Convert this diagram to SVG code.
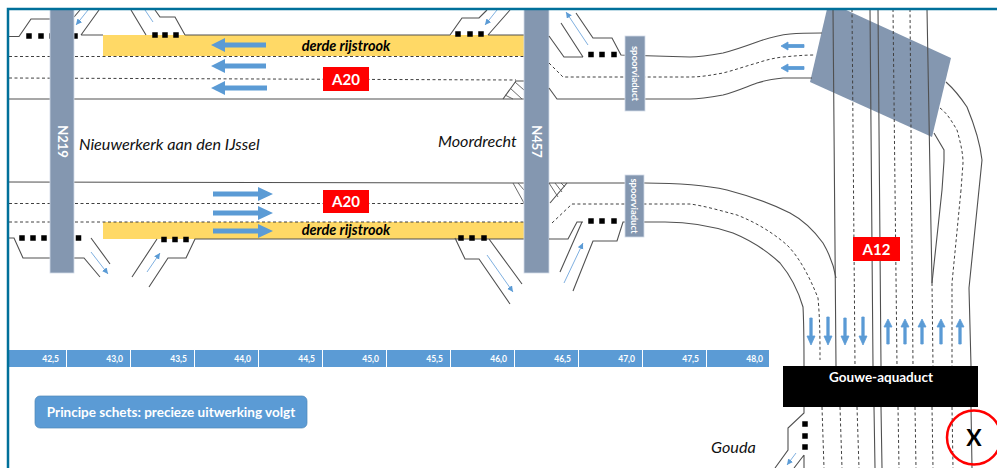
<svg xmlns="http://www.w3.org/2000/svg" width="997" height="468" viewBox="0 0 997 468">
<style>
.s{fill:none;stroke:#505050;stroke-width:1.1}
.d{fill:none;stroke:#404040;stroke-width:1;stroke-dasharray:3 2.5}
.t{fill:none;stroke:#595959;stroke-width:.9}
.la{fill:none;stroke:#7fb0e0;stroke-width:1}
.ah{fill:#5b9bd5}
.ah2{fill:#5b9bd5;stroke:#5b9bd5;stroke-width:.8}
.road{fill:#8497b0;stroke:#d3dbe8;stroke-width:.8}
.sq{fill:#000}
text{font-family:Lato,"Liberation Sans",sans-serif}
.lab{font-size:16.200px;font-style:italic;fill:#111}
.rt{font-weight:700;fill:#fff;text-anchor:middle}
.km{font-size:8.500px;font-weight:700;fill:#fff;text-anchor:end}
.cell{fill:#5b9bd5}
.red{fill:#f00}
.der{font-size:14.500px;font-weight:700;font-style:italic;fill:#000;text-anchor:middle}
</style>
<defs>
<g id="sqs"><rect class="sq" x="-2.750" y="-2.750" width="5.500" height="5.500"/></g>
<marker id="lh" markerWidth="7" markerHeight="7" refX="6" refY="3" orient="auto" markerUnits="userSpaceOnUse"><path d="M0 0L6 3L0 6Z" fill="#5b9bd5"/></marker>
</defs>
<rect width="997" height="468" fill="#fff"/>
<g id="yellow-lanes">
<rect x="103" y="35" width="421" height="21" fill="#ffd966"/>
<rect x="103" y="222" width="421" height="17" fill="#ffd966"/>
</g>
<g id="squares-behind">
<use href="#sqs" x="29" y="36"/><use href="#sqs" x="41" y="36"/><use href="#sqs" x="52" y="36"/><use href="#sqs" x="75" y="36"/>
<use href="#sqs" x="22" y="238"/><use href="#sqs" x="33" y="238"/><use href="#sqs" x="44" y="238"/><use href="#sqs" x="78.500" y="238"/>
</g>
<g id="connectors-a20-west">
<path class="s" d="M9 36.500H19L31 19H50M81 35L99 10M81 35H103M185 35H450M488 35H524M131 10L146 35M155 10L160 17H175L185 35M450 35L462 18H479L487 10M488 35L510 10M74 17L80 10"/>
<path class="d" d="M9 56.500H524M9 78L516 80"/>
<path class="s" d="M9 99H524"/>
<path class="s" d="M9 182L524 183"/>
<path class="d" d="M9 203.500H524M9 222H524"/>
<path class="s" d="M9 238H14L23 258H84L100 277M91 238L110 264M132 277L157 239M149 287L168 258H186L195 239H524M455 238L465 259H479L510 304M489 239L522 284"/>
<g id="hatch-west">
<path class="s" d="M503 99L516 81H524"/>
<path class="t" d="M505 95L513 99M510 88L522 99M515 82L524 90M513 183L524 203M518 183L524 190"/>
</g>
<path class="la" d="M88 10L76 25" marker-end="url(#lh)"/>
<path class="la" d="M145 10L153 22"/>
<path class="la" d="M497 10L485 25" marker-end="url(#lh)"/>
<path class="la" d="M91 252L108 274" marker-end="url(#lh)"/>
<path class="la" d="M147 272L160 253" marker-end="url(#lh)"/>
<path class="la" d="M487 255L513 292" marker-end="url(#lh)"/>
</g>
<g id="road-n219"><rect class="road" x="50" y="9" width="24" height="264"/><text class="rt" font-size="13" transform="translate(58 141.500) rotate(90)">N219</text></g>
<g id="road-n457"><rect class="road" x="524" y="9" width="25" height="264"/><text class="rt" font-size="13" transform="translate(532 141.500) rotate(90)">N457</text></g>
<g id="overpass-a12"><polygon points="827,9 844,9 951,58 932,137 810,82" fill="#8497b0"/></g>
<g id="connectors-east">
<path class="s" d="M549 36L564 57H583M561 23L583 57M576 13L593 38H612L621 55L690 57C701 57 712 55 723 53C735 50 746 46 757 42C768 38 779 35 790 34C801 33 811 33 822 33"/>
<path class="d" d="M549 63L563 77H690C701 77 712 75 723 73C735 70 746 66 757 63C766 60 774 58 783 57C794 56 804 55 815 55"/>
<path class="s" d="M549 88L557 99H690C701 99 712 97 723 95C735 92 746 87 757 83C766 80 774 79 783 78C793 78 802 78 812 78"/>
<g id="hatch-east">
<path class="s" d="M550 203L567 183"/>
<path class="t" d="M549 183L558 197M555 183L562 192M561 183L565 187"/>
</g>
<path class="s" d="M549 183H645C675 183 705 185 727 190C750 196 770 203 790 213C805 221 815 232 823 243C830 255 834 266 836 278"/>
<path class="d" d="M552 223L572 204H690C705 206 722 211 737 215C755 222 772 232 787 245C800 258 810 278 818 298C820 320 820 340 820 360"/>
<path class="s" d="M549 239H568L577 222H583M560 272L582 222M573 291L593 241H617L623 222H665C687 222 712 226 733 233C750 240 766 250 780 263C790 275 798 290 803 307C804 325 804 345 804 366"/>
<path class="la" d="M588 45L566 12" marker-end="url(#lh)"/>
<path class="la" d="M564 283L583 243" marker-end="url(#lh)"/>
<path class="s" d="M833 9L836 366M870 9L873 366M878 9L881 366M927 9L932 283"/>
<path class="d" d="M852 9L855 366M893 9L897 366M910 9L913 366M932 283L933 366M961 190L952 283V366M940 108C948 114 952 122 957 130C960 141 963 152 963 163L961 190"/>
<path class="s" d="M932 283L942 190L944 161V150L934 133M946 82C955 90 961 98 967 107C974 124 980 142 982 160L969 288L971 366"/>
<path class="d" d="M822 407L824 468M840 407L842 468M857 407L859 468M898 407L899 468M915 407L916 468M932 407L933 468M952 407L953 468"/>
<path class="s" d="M874 407L875 468M881 407L882 468M971 407L972 468"/>
<path class="s" d="M804 407V413L788 428V450L775 468M804 455V468M804 455L794 468"/>
<path class="la" d="M796 453L787 465" marker-end="url(#lh)"/>
</g>
<g id="squares">
<use href="#sqs" x="155" y="35"/><use href="#sqs" x="165" y="35"/><use href="#sqs" x="176" y="35"/>
<use href="#sqs" x="458" y="34"/><use href="#sqs" x="470" y="34"/><use href="#sqs" x="481" y="34"/>
<use href="#sqs" x="591" y="54.500"/><use href="#sqs" x="602" y="54.500"/><use href="#sqs" x="614" y="54.500"/>
<use href="#sqs" x="164" y="239.500"/><use href="#sqs" x="175" y="239.500"/><use href="#sqs" x="186" y="239.500"/>
<use href="#sqs" x="461" y="238"/><use href="#sqs" x="472" y="238"/><use href="#sqs" x="484" y="238"/>
<use href="#sqs" x="591" y="221"/><use href="#sqs" x="602" y="221"/><use href="#sqs" x="614" y="221"/>
<use href="#sqs" x="805" y="424"/><use href="#sqs" x="805" y="436"/><use href="#sqs" x="805" y="447"/>
</g>
<g id="spoorviaduct-north"><rect class="road" x="625" y="36" width="20" height="75"/><text class="rt" font-size="9.500" transform="translate(632 73.500) rotate(90)">spoorviaduct</text></g>
<g id="spoorviaduct-south"><rect class="road" x="625" y="175" width="19" height="62"/><text class="rt" font-size="9.500" transform="translate(631 206) rotate(90)">spoorviaduct</text></g>
<g id="flow-arrows">
<path class="ah" d="M211 45L225 38V42.500H266V47.500H225V52Z"/>
<path class="ah" d="M211 66L225 59V63.500H266V68.500H225V73Z"/>
<path class="ah" d="M211 88L225 81V85.500H267V90.500H225V95Z"/>
<path class="ah" d="M273 194L258 187V191.500H213V196.500H258V201Z"/>
<path class="ah" d="M273 213L258 206V210.500H213V215.500H258V220Z"/>
<path class="ah" d="M273 231L258 224V228.500H213V233.500H258V238Z"/>
<path class="ah2" d="M781 46L788 42V44.500H804V47.500H788V50Z"/>
<path class="ah2" d="M781 68L788 64V66.500H804V69.500H788V72Z"/>
<path class="ah2" d="M811 345L807 336H809.800V318H812.200V336H815Z"/>
<path class="ah2" d="M828 345L824 336H826.800V317H829.200V336H832Z"/>
<path class="ah2" d="M845 345L841 336H843.800V318H846.200V336H849Z"/>
<path class="ah2" d="M863 345L859 336H861.800V317H864.200V336H867Z"/>
<path class="ah2" d="M888 319L884 327H886.800V344H889.200V327H892Z"/>
<path class="ah2" d="M905 319L901 327H903.800V344H906.200V327H909Z"/>
<path class="ah2" d="M922 319L918 327H920.800V344H923.200V327H926Z"/>
<path class="ah2" d="M941 319L937 327H939.800V344H942.200V327H945Z"/>
<path class="ah2" d="M960 319L956 327H958.800V344H961.200V327H964Z"/>
</g>
<g id="label-a20-north"><rect class="red" x="323" y="67" width="46" height="24"/><text class="rt" x="346" y="84.500" font-size="15">A20</text></g>
<g id="label-a20-south"><rect class="red" x="323" y="190" width="46" height="23"/><text class="rt" x="346" y="207" font-size="15">A20</text></g>
<g id="label-a12"><rect class="red" x="853" y="237" width="47" height="24"/><text class="rt" x="876.500" y="254.500" font-size="15">A12</text></g>
<text class="der" x="346" y="50.500">derde rijstrook</text>
<text class="der" x="346" y="234.500">derde rijstrook</text>
<text class="lab" x="79" y="149.500">Nieuwerkerk aan den IJssel</text>
<text class="lab" x="438" y="147">Moordrecht</text>
<text class="lab" x="711" y="453">Gouda</text>
<g id="km-scale">
<rect class="cell" x="9" y="350" width="57" height="17"/><rect class="cell" x="67" y="350" width="63" height="17"/><rect class="cell" x="131" y="350" width="63" height="17"/><rect class="cell" x="195" y="350" width="63" height="17"/><rect class="cell" x="259" y="350" width="63" height="17"/><rect class="cell" x="323" y="350" width="63" height="17"/><rect class="cell" x="387" y="350" width="63" height="17"/><rect class="cell" x="451" y="350" width="63" height="17"/><rect class="cell" x="515" y="350" width="63" height="17"/><rect class="cell" x="579" y="350" width="63" height="17"/><rect class="cell" x="643" y="350" width="63" height="17"/><rect class="cell" x="707" y="350" width="62" height="17"/>
<text class="km" x="59" y="362">42,5</text><text class="km" x="123" y="362">43,0</text><text class="km" x="187" y="362">43,5</text><text class="km" x="251" y="362">44,0</text><text class="km" x="315" y="362">44,5</text><text class="km" x="379" y="362">45,0</text><text class="km" x="443" y="362">45,5</text><text class="km" x="507" y="362">46,0</text><text class="km" x="571" y="362">46,5</text><text class="km" x="635" y="362">47,0</text><text class="km" x="699" y="362">47,5</text><text class="km" x="763" y="362">48,0</text>
</g>
<g id="note"><rect x="35" y="396" width="272" height="32" rx="5" fill="#5b9bd5" stroke="#4f86b8" stroke-width=".7"/><text class="rt" x="171" y="417" font-size="13.500">Principe schets: precieze uitwerking volgt</text></g>
<g id="gouwe-aquaduct"><rect x="783" y="366" width="195" height="41" fill="#000"/><text class="rt" x="881" y="382" font-size="13.500">Gouwe-aquaduct</text></g>
<g id="marker-x"><circle cx="974" cy="437.500" r="27" fill="none" stroke="#f00" stroke-width="2.500"/><text x="974" y="445.500" font-size="23" font-weight="700" text-anchor="middle" fill="#000">X</text></g>
<g id="frame"><path d="M8 468V9H997" fill="none" stroke="#00709a" stroke-width="2.500"/></g>
</svg>
